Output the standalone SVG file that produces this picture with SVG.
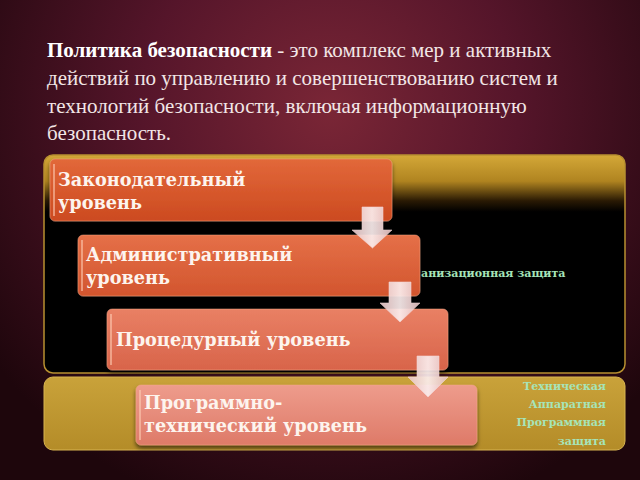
<svg xmlns="http://www.w3.org/2000/svg" width="640" height="480" viewBox="0 0 640 480">
<defs>
  <radialGradient id="bg" cx="330" cy="110" r="420" gradientUnits="userSpaceOnUse">
    <stop offset="0" stop-color="#7a2636"/>
    <stop offset="0.45" stop-color="#55152a"/>
    <stop offset="1" stop-color="#1e060c"/>
  </radialGradient>
  <linearGradient id="topPanel" x1="0" y1="155" x2="0" y2="373" gradientUnits="userSpaceOnUse">
    <stop offset="0" stop-color="#d4a838"/>
    <stop offset="0.12" stop-color="#b08420"/>
    <stop offset="0.21" stop-color="#2a1a04"/>
    <stop offset="0.26" stop-color="#000000"/>
    <stop offset="1" stop-color="#000000"/>
  </linearGradient>
  <linearGradient id="botPanel" x1="0" y1="377" x2="0" y2="450" gradientUnits="userSpaceOnUse">
    <stop offset="0" stop-color="#c9a23a"/>
    <stop offset="1" stop-color="#b48c28"/>
  </linearGradient>
  <linearGradient id="b1" x1="0" y1="0" x2="0" y2="1">
    <stop offset="0" stop-color="#e2683a"/>
    <stop offset="1" stop-color="#cc4a20"/>
  </linearGradient>
  <linearGradient id="b2" x1="0" y1="0" x2="0" y2="1">
    <stop offset="0" stop-color="#e57048"/>
    <stop offset="1" stop-color="#d2552e"/>
  </linearGradient>
  <linearGradient id="b3" x1="0" y1="0" x2="0" y2="1">
    <stop offset="0" stop-color="#e98064"/>
    <stop offset="1" stop-color="#d8644a"/>
  </linearGradient>
  <linearGradient id="b4" x1="0" y1="0" x2="0" y2="1">
    <stop offset="0" stop-color="#ee9c8c"/>
    <stop offset="1" stop-color="#de7a68"/>
  </linearGradient>
  <linearGradient id="arr" x1="0" y1="0" x2="1" y2="0">
    <stop offset="0" stop-color="#e8c4c4"/>
    <stop offset="0.5" stop-color="#fbeeee"/>
    <stop offset="1" stop-color="#e4bcbc"/>
  </linearGradient>
  <filter id="sh" x="-5%" y="-10%" width="110%" height="130%">
    <feDropShadow dx="0" dy="3" stdDeviation="2" flood-color="#000" flood-opacity="0.6"/>
  </filter>
  <style>
    .para{font-family:"Liberation Serif","Times New Roman",serif;font-size:21px;fill:#f2e6e6;}
    .bold{font-weight:bold;fill:#ffffff;}
    .box{stroke:#f4a888;stroke-width:0.8;stroke-opacity:0.6;filter:url(#sh);}
    .lbl{font-family:"DejaVu Serif","Liberation Serif",serif;font-weight:bold;font-size:17.7px;fill:#fdf4ee;}
    .edge{fill:#ffd0b8;opacity:0.55;}
    .side{font-family:"DejaVu Serif","Liberation Serif",serif;font-weight:bold;font-size:11px;fill:#a6e4b8;}
    .arrow{fill:url(#arr);opacity:0.92;stroke:#f6dede;stroke-width:0.6;}
  </style>
</defs>
<rect x="0" y="0" width="640" height="480" fill="url(#bg)"/>

<g id="paragraph">
  <text class="para" x="47" y="57"><tspan class="bold">Политика безопасности</tspan> - это комплекс мер и активных</text>
  <text class="para" x="47" y="85">действий по управлению и совершенствованию систем и</text>
  <text class="para" x="47" y="113">технологий безопасности, включая информационную</text>
  <text class="para" x="47" y="140">безопасность.</text>
</g>

<g id="panel-org">
  <rect x="44" y="155" width="581" height="218" rx="9" fill="url(#topPanel)" stroke="#b89030" stroke-width="1.5"/>
  <text class="side" x="421" y="277">анизационная защита</text>
</g>

<g id="panel-tech">
  <rect x="44" y="377" width="581" height="73" rx="9" fill="url(#botPanel)" stroke="#d8b450" stroke-width="1"/>
  <text class="side" x="606" y="390" text-anchor="end">Техническая</text>
  <text class="side" x="606" y="408" text-anchor="end">Аппаратная</text>
  <text class="side" x="606" y="426" text-anchor="end">Программная</text>
  <text class="side" x="606" y="445" text-anchor="end">защита</text>
</g>

<g id="box-legislative">
  <rect class="box" x="50" y="159" width="342" height="62" rx="5" fill="url(#b1)"/>
  <rect class="edge" x="53" y="164" width="2" height="52"/>
  <text class="lbl" x="58" y="186">Законодательный</text>
  <text class="lbl" x="58" y="209">уровень</text>
</g>

<g id="box-admin">
  <rect class="box" x="78" y="235" width="342" height="61" rx="5" fill="url(#b2)"/>
  <rect class="edge" x="81" y="240" width="2" height="51"/>
  <text class="lbl" x="86" y="261">Административный</text>
  <text class="lbl" x="86" y="284">уровень</text>
</g>

<g id="box-procedural">
  <rect class="box" x="107" y="309" width="341" height="61" rx="5" fill="url(#b3)"/>
  <rect class="edge" x="110" y="314" width="2" height="51"/>
  <text class="lbl" x="116" y="346">Процедурный уровень</text>
</g>

<g id="box-tech">
  <rect class="box" x="136" y="385" width="341" height="60" rx="5" fill="url(#b4)"/>
  <rect class="edge" x="139" y="390" width="2" height="50"/>
  <text class="lbl" x="144" y="409">Программно-</text>
  <text class="lbl" x="144" y="432">технический уровень</text>
</g>

<g id="connectors">
  <polygon class="arrow" points="362,207 383,207 383,230 392,230 372.5,248 352,230 362,230"/>
  <polygon class="arrow" points="389,282 411,282 411,303 420,303 400,322 380,303 389,303"/>
  <polygon class="arrow" points="417,356 439,356 439,377 448,377 428,397 408,377 417,377"/>
</g>
</svg>
